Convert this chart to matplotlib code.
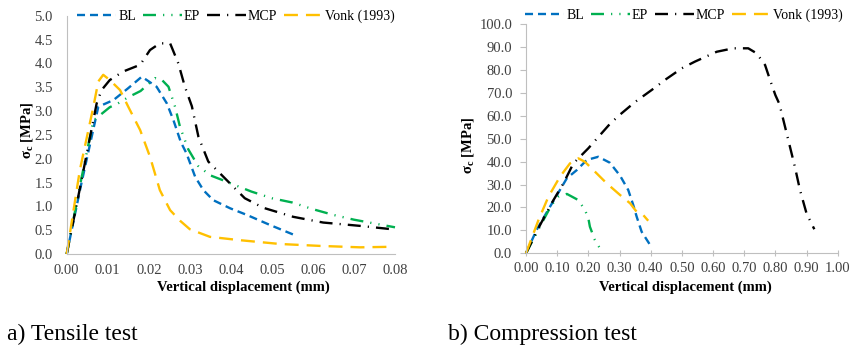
import matplotlib
matplotlib.use("Agg")
import matplotlib.pyplot as plt
from matplotlib.ticker import MultipleLocator, FormatStrFormatter

plt.rcParams['font.family'] = ['Liberation Serif', 'DejaVu Serif']
plt.rcParams['mathtext.fontset'] = 'custom'
plt.rcParams['mathtext.rm'] = 'Liberation Serif'
plt.rcParams['mathtext.bf'] = 'Liberation Serif:bold'

# ---- a) Tensile test ----
bl_t_x = [0, 0.0035, 0.0077, 0.0114, 0.015, 0.0183, 0.0219, 0.0244, 0.026, 0.0278,
          0.0292, 0.0313, 0.0333, 0.0357, 0.0398, 0.0439, 0.0495, 0.056]
bl_t_y = [0, 1.45, 3.09, 3.23, 3.48, 3.72, 3.51, 3.16, 2.81, 2.35,
          2.11, 1.62, 1.34, 1.13, 0.96, 0.82, 0.61, 0.38]

ep_t_x = [0, 0.0035, 0.0065, 0.0085, 0.0105, 0.0125, 0.015, 0.018, 0.0215, 0.023,
          0.0248, 0.0264, 0.0276, 0.0296, 0.032, 0.035, 0.038, 0.04, 0.045, 0.05,
          0.055, 0.06, 0.065, 0.07, 0.075, 0.08]
ep_t_y = [0, 1.55, 2.8, 2.94, 3.08, 3.16, 3.29, 3.42, 3.69, 3.67,
          3.51, 3.09, 2.67, 2.2, 1.85, 1.65, 1.55, 1.48, 1.31, 1.17,
          1.08, 0.94, 0.82, 0.72, 0.64, 0.56]

mcp_t_x = [0, 0.0035, 0.0073, 0.0085, 0.0105, 0.0138, 0.0179, 0.0203, 0.0227, 0.0252,
           0.0272, 0.0288, 0.0305, 0.0321, 0.0345, 0.0398, 0.0434, 0.0479, 0.0552,
           0.0625, 0.0715, 0.0792]
mcp_t_y = [0, 1.5, 3.16, 3.44, 3.65, 3.83, 3.97, 4.28, 4.42, 4.42,
           4.0, 3.51, 3.1, 2.46, 1.94, 1.48, 1.17, 0.97, 0.78,
           0.66, 0.59, 0.52]

vonk_t_x = [0, 0.0032, 0.0065, 0.0077, 0.0089, 0.0105, 0.013, 0.015, 0.0179, 0.0203,
            0.0227, 0.0252, 0.0276, 0.030, 0.0349, 0.0422, 0.052, 0.0617, 0.0715, 0.0784]
vonk_t_y = [0, 1.76, 3.09, 3.62, 3.76, 3.65, 3.44, 3.09, 2.6, 2.04,
            1.34, 0.92, 0.7, 0.52, 0.36, 0.29, 0.21, 0.17, 0.14, 0.15]

# ---- b) Compression test ----
bl_c_x = [0, 0.034, 0.077, 0.131, 0.163, 0.195, 0.232, 0.269, 0.302, 0.328,
          0.344, 0.355, 0.371, 0.396]
bl_c_y = [0, 10.2, 20.3, 32.7, 36.3, 40.7, 42.1, 39.5, 33.8, 27.6,
          21.1, 16.0, 9.4, 4.1]

ep_c_x = [0, 0.04, 0.082, 0.104, 0.131, 0.168, 0.189, 0.2, 0.205, 0.221, 0.237]
ep_c_y = [0, 10.5, 21.1, 24.7, 25.9, 23.2, 18.9, 15.3, 11.6, 5.8, 2.2]

mcp_c_x = [0, 0.045, 0.082, 0.12, 0.152, 0.2, 0.269, 0.30, 0.35, 0.403, 0.45, 0.50,
           0.542, 0.612, 0.665, 0.713, 0.74, 0.767, 0.783, 0.80, 0.813, 0.831,
           0.852, 0.863, 0.879, 0.90, 0.913, 0.925]
mcp_c_y = [0, 12.3, 21.8, 30.5, 39.2, 45.8, 56.4, 60.3, 66, 71.2, 76, 80.7,
           83.6, 87.9, 89.4, 89.4, 87.2, 82.1, 75.6, 69.0, 65.1, 55.2,
           43.6, 37.5, 27.6, 17.4, 13.8, 10.5]

vonk_c_x = [0, 0.04, 0.072, 0.109, 0.141, 0.168, 0.189, 0.216, 0.259, 0.302,
            0.334, 0.355, 0.376, 0.392]
vonk_c_y = [0, 14.5, 24.7, 33.4, 39.2, 41.4, 39.9, 36.3, 30.5, 25.4,
            21.8, 18.1, 16.7, 14.2]

labels = ['BL', 'EP', 'MCP', 'Vonk (1993)']
colores = ['#0070C0', '#00B050', '#000000', '#FFC000']
guiones = [(3.4, 2.1), (5.5, 3, 0.5, 3, 0.5, 3), (5.5, 3, 0.5, 3), (5.9, 3.4)]
LW = 1.7

W, H = 850, 349
fig = plt.figure(figsize=(W / 100, H / 100), dpi=100)


def px_axes(x0, x1, ytop, ybot):
    return fig.add_axes([x0 / W, 1 - ybot / H, (x1 - x0) / W, (ybot - ytop) / H])


def estilo(ax, xlim, xstep, ylim, ystep, ticks):
    ax.set_xlim(*xlim)
    ax.set_ylim(*ylim)
    ax.xaxis.set_major_locator(MultipleLocator(xstep))
    ax.yaxis.set_major_locator(MultipleLocator(ystep))
    ax.xaxis.set_major_formatter(FormatStrFormatter('%.2f'))
    ax.yaxis.set_major_formatter(FormatStrFormatter('%.1f'))
    for s in ['top', 'right']:
        ax.spines[s].set_visible(False)
    for s in ['left', 'bottom']:
        ax.spines[s].set_color('#bfbfbf')
        ax.spines[s].set_linewidth(0.8)
    if ticks:
        ax.tick_params(axis='x', direction='inout', length=5, width=0.8,
                       color='#bfbfbf', pad=4)
        ax.tick_params(axis='y', direction='out', length=4, width=0.8,
                       color='#bfbfbf', pad=6)
    else:
        ax.tick_params(axis='x', length=0, pad=7)
        ax.tick_params(axis='y', length=0, pad=10)
    ax.tick_params(labelsize=10.5, labelcolor='#404040')
    ax.set_xlabel('Vertical displacement (mm)', fontsize=10.5, fontweight='bold',
                  va='center')
    ax.set_ylabel(r'$\mathbf{\sigma_c}$ [MPa]', fontsize=10.5, fontweight='bold',
                  va='center')


def graficar(ax, series, legend_center):
    handles = []
    for (x, y), lab, col, dsh in zip(series, labels, colores, guiones):
        ln, = ax.plot(x, y, color=col, lw=LW, dashes=dsh, label=lab, clip_on=False)
        handles.append(ln)
    ax.legend(handles=handles, loc='center', ncol=4, frameon=False,
              bbox_to_anchor=(legend_center[0] / W, 1 - legend_center[1] / H),
              bbox_transform=fig.transFigure, fontsize=10, handlelength=2.8,
              handletextpad=0.15, columnspacing=0.5, borderaxespad=0,
              borderpad=0)


# panel a
ax1 = px_axes(66.7, 395, 15.7, 254)
estilo(ax1, (0, 0.08), 0.01, (0, 5.0), 0.5, ticks=False)
graficar(ax1, [(bl_t_x, bl_t_y), (ep_t_x, ep_t_y), (mcp_t_x, mcp_t_y),
               (vonk_t_x, vonk_t_y)], (236, 16.5))
ax1.xaxis.set_label_coords((243 - 66.7) / 328.3, -(287.7 - 254) / 238.3)
ax1.yaxis.set_label_coords((27 - 66.7) / 328.3, 0.52)

# panel b
ax2 = px_axes(526, 837.7, 24, 253.3)
estilo(ax2, (0, 1.0), 0.1, (0, 100), 10, ticks=True)
graficar(ax2, [(bl_c_x, bl_c_y), (ep_c_x, ep_c_y), (mcp_c_x, mcp_c_y),
               (vonk_c_x, vonk_c_y)], (684, 15))
ax2.xaxis.set_label_coords((685 - 526) / 311.7, -(287.7 - 253.3) / 229.3)
ax2.yaxis.set_label_coords((468 - 526) / 311.7, 0.47)

# captions
fig.text(7 / W, 1 - 340 / H, 'a) Tensile test', fontsize=17, va='baseline')
fig.text(448 / W, 1 - 340 / H, 'b) Compression test', fontsize=17, va='baseline')

fig.savefig('out.png', dpi=100, facecolor='white')
